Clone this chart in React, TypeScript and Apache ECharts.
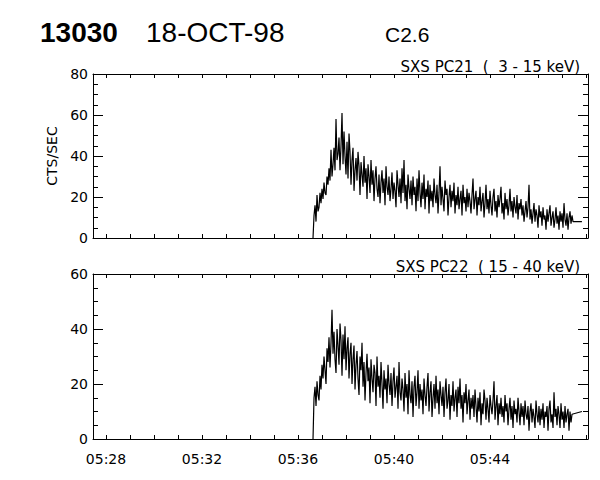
import React, { useEffect, useRef } from "react";
import * as echarts from "echarts";

// Time in minutes after 05:00 UT
const xMinMinute = 27.458;
const xMaxMinute = 48.083;
const tickMinutes = [28, 29, 30, 31, 32, 33, 34, 35, 36, 37, 38, 39, 40, 41, 42, 43, 44, 45, 46, 47, 48];
const labelMinutes = [28, 32, 36, 40, 44];

const onsetMinute = 36.625;
const sampleMinutes = 2.5 / 60;
const tailMinute = 47.83;

// SXS PC21 (3 - 15 keV), counts/s
const pc21Counts = [
  0, 11, 16, 8, 21, 13, 15, 22, 17, 24,
  19, 27, 22, 21, 30, 26, 34, 28, 43, 30,
  36, 44, 33, 58, 38, 41, 49, 33, 45, 61,
  36, 52, 40, 31, 47, 29, 51, 42, 26, 38,
  44, 23, 33, 39, 28, 42, 35, 21, 37, 31,
  25, 40, 27, 34, 19, 36, 30, 22, 38, 26,
  33, 18, 29, 35, 24, 20, 31, 17, 27, 33,
  22, 29, 16, 35, 25, 21, 30, 18, 24, 32,
  19, 27, 23, 15, 33, 26, 20, 29, 17, 34,
  22, 38, 18, 26, 14, 31, 24, 19, 28, 16,
  30, 21, 25, 13, 29, 18, 33, 22, 15, 27,
  19, 31, 14, 24, 20, 28, 12, 26, 18, 23,
  15, 29, 21, 17, 26, 12, 22, 35, 16, 25,
  19, 13, 28, 21, 24, 11, 20, 26, 15, 23,
  18, 27, 12, 21, 16, 25, 14, 19, 23, 11,
  26, 17, 20, 13, 24, 15, 22, 18, 12, 21,
  29, 14, 19, 23, 11, 20, 16, 25, 13, 18,
  22, 10, 17, 26, 14, 19, 12, 23, 16, 11,
  20, 24, 13, 18, 10, 21, 15, 19, 25, 12,
  17, 9, 22, 14, 19, 11, 16, 24, 13, 18,
  10, 20, 15, 12, 21, 9, 17, 14, 19, 11,
  16, 8, 13, 18, 10, 15, 26, 9, 14, 7,
  12, 17, 8, 14, 11, 5, 16, 10, 13, 6,
  15, 9, 11, 4, 14, 8, 12, 16, 6, 10,
  13, 5, 9, 15, 7, 11, 4, 13, 8, 12,
  5, 17, 9, 6, 12, 4, 10, 13, 7, 11, 8,
];
const pc21Tail = 8;

// SXS PC22 (15 - 40 keV), counts/s
const pc22Counts = [
  0, 15, 19, 12, 21, 16, 14, 23, 18, 27,
  22, 30, 25, 20, 33, 28, 37, 26, 35, 47,
  31, 39, 29, 24, 40, 34, 27, 42, 36, 23,
  38, 29, 41, 25, 33, 37, 22, 31, 35, 20,
  29, 34, 18, 27, 32, 22, 16, 30, 25, 35,
  19, 28, 14, 24, 31, 21, 26, 13, 29, 22,
  17, 27, 24, 12, 30, 19, 23, 15, 28, 20,
  11, 25, 18, 22, 13, 27, 20, 16, 24, 12,
  21, 26, 15, 19, 23, 11, 28, 17, 14, 22,
  18, 10, 24, 15, 20, 9, 25, 16, 13, 21,
  8, 19, 23, 12, 17, 25, 11, 20, 14, 18,
  9, 22, 16, 12, 19, 24, 10, 17, 21, 8,
  15, 20, 11, 23, 13, 18, 9, 21, 16, 12,
  19, 8, 17, 22, 11, 14, 20, 7, 16, 12,
  21, 10, 15, 18, 8, 19, 13, 22, 11, 16,
  6, 17, 13, 20, 9, 14, 18, 7, 15, 11,
  16, 8, 18, 12, 6, 15, 10, 17, 5, 13,
  9, 18, 14, 7, 15, 11, 6, 16, 12, 9,
  14, 21, 7, 12, 16, 5, 13, 9, 15, 8,
  12, 6, 16, 10, 13, 5, 11, 15, 7, 12,
  4, 14, 9, 11, 6, 15, 10, 5, 13, 8,
  12, 5, 14, 9, 7, 12, 3, 10, 13, 6,
  11, 8, 4, 14, 9, 6, 12, 5, 11, 7,
  13, 4, 10, 8, 12, 3, 11, 14, 6, 9,
  4, 17, 8, 11, 5, 12, 9, 4, 13, 7,
  10, 4, 12, 6, 9, 11, 3, 10, 6, 9,
];
const pc22Tail = 10;

const titleNumber = "13030";
const titleDate = "18-OCT-98";
const titleClass = "C2.6";
const panelTitles = ["SXS PC21  (  3 - 15 keV)", "SXS PC22  ( 15 - 40 keV)"];
const yMaxes = [80, 60];
const yName = "CTS/SEC";

const FONT = "DejaVu Sans";
const BLACK = "#000";

function toSeries(values: number[], tail: number) {
  const pts: number[][] = values.map((v, i) => [onsetMinute + i * sampleMinutes, v]);
  pts.push([tailMinute, tail]);
  return pts;
}

function fmtMinute(v: number) {
  const m = Math.round(v);
  return "05:" + (m < 10 ? "0" + m : String(m));
}

function xAxisDef(gridIndex: number, position: "top" | "bottom", showLabels: boolean) {
  return {
    gridIndex,
    type: "value",
    position,
    min: xMinMinute,
    max: xMaxMinute,
    axisLine: { show: true, onZero: false, lineStyle: { color: BLACK, width: 1 } },
    axisTick: {
      show: true,
      inside: true,
      length: 4,
      customValues: tickMinutes,
      lineStyle: { color: BLACK, width: 1 },
    },
    axisLabel: showLabels
      ? {
          show: true,
          customValues: labelMinutes,
          formatter: fmtMinute,
          margin: 13,
          color: BLACK,
          fontSize: 14,
          fontFamily: FONT,
        }
      : { show: false },
    splitLine: { show: false },
  };
}

function yAxisDef(gridIndex: number, position: "left" | "right", max: number, showLabels: boolean, name?: string) {
  return {
    gridIndex,
    type: "value",
    position,
    min: 0,
    max,
    interval: 20,
    name: name || "",
    nameLocation: "middle",
    nameGap: 34,
    nameRotate: 90,
    nameTextStyle: { color: BLACK, fontSize: 14, fontFamily: FONT },
    axisLine: { show: true, onZero: false, lineStyle: { color: BLACK, width: 1 } },
    axisTick: { show: true, inside: true, length: 10, lineStyle: { color: BLACK, width: 1 } },
    minorTick: { show: true, splitNumber: 4, length: 5, lineStyle: { color: BLACK, width: 1 } },
    axisLabel: showLabels
      ? { show: true, margin: 5, color: BLACK, fontSize: 14, fontFamily: FONT }
      : { show: false },
    splitLine: { show: false },
    minorSplitLine: { show: false },
  };
}

export default function App() {
  const ref = useRef<HTMLDivElement>(null);
  useEffect(() => {
    if (!ref.current) return;
    const chart = echarts.init(ref.current, null, { renderer: "svg" });
    chart.setOption({
      animation: false,
      backgroundColor: "#fff",
      grid: [
        { left: 93, top: 74, width: 495, height: 164, containLabel: false },
        { left: 93, top: 274, width: 495, height: 165, containLabel: false },
      ],
      xAxis: [
        xAxisDef(0, "bottom", false),
        xAxisDef(0, "top", false),
        xAxisDef(1, "bottom", true),
        xAxisDef(1, "top", false),
      ],
      yAxis: [
        yAxisDef(0, "left", yMaxes[0], true, yName),
        yAxisDef(0, "right", yMaxes[0], false),
        yAxisDef(1, "left", yMaxes[1], true),
        yAxisDef(1, "right", yMaxes[1], false),
      ],
      graphic: [
        {
          type: "text",
          left: 40,
          top: 18,
          style: { text: titleNumber, fill: BLACK, fontSize: 28, fontWeight: "bold", fontFamily: "Liberation Sans" },
        },
        {
          type: "text",
          left: 146,
          top: 18,
          style: { text: titleDate, fill: BLACK, fontSize: 28, fontFamily: "Liberation Sans" },
        },
        {
          type: "text",
          left: 385,
          top: 24,
          style: { text: titleClass, fill: BLACK, fontSize: 21, fontFamily: "Liberation Sans" },
        },
        {
          type: "text",
          right: 20,
          top: 59,
          style: { text: panelTitles[0], fill: BLACK, fontSize: 15, fontFamily: FONT },
        },
        {
          type: "text",
          right: 20,
          top: 259,
          style: { text: panelTitles[1], fill: BLACK, fontSize: 15, fontFamily: FONT },
        },
      ],
      series: [
        {
          type: "line",
          xAxisIndex: 0,
          yAxisIndex: 0,
          data: toSeries(pc21Counts, pc21Tail),
          showSymbol: false,
          symbol: "none",
          lineStyle: { color: BLACK, width: 1.2 },
          silent: true,
        },
        {
          type: "line",
          xAxisIndex: 2,
          yAxisIndex: 2,
          data: toSeries(pc22Counts, pc22Tail),
          showSymbol: false,
          symbol: "none",
          lineStyle: { color: BLACK, width: 1.2 },
          silent: true,
        },
      ],
    });
    return () => chart.dispose();
  }, []);
  return (
    <div
      ref={ref}
      style={{ position: "fixed", left: 0, top: 0, width: 600, height: 480, background: "#fff" }}
    />
  );
}
